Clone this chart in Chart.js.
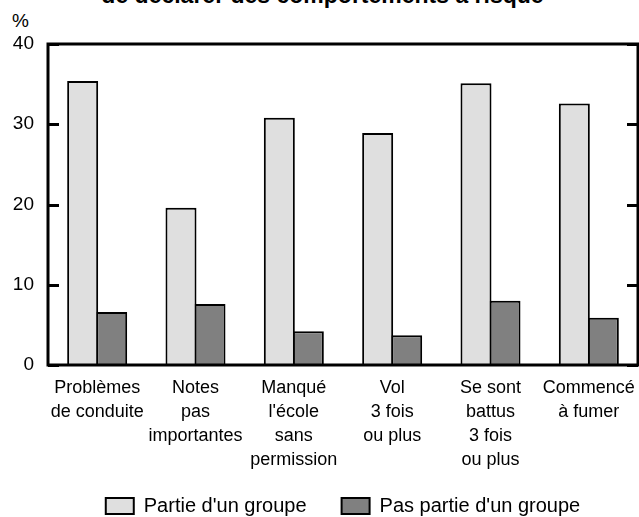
<!DOCTYPE html>
<html lang="fr">
<head>
<meta charset="utf-8">
<title>Comportements à risque</title>
<script src="https://cdn.jsdelivr.net/npm/chart.js@4/dist/chart.umd.min.js"></script>
<style>
  html, body { margin: 0; padding: 0; background: #fff; }
  #wrap { position: relative; width: 639px; height: 517px; overflow: hidden; font-family: "Liberation Sans", Arial, sans-serif; }
  #titre { position: absolute; left: 3px; top: -16px; width: 639px; text-align: center; font-weight: bold; font-size: 23px; line-height: 23px; color: #000; white-space: nowrap; }
  #unite { position: absolute; left: 12px; top: 11px; font-size: 19px; line-height: 19px; color: #000; }
  canvas { position: absolute; left: 0; top: 0; }
</style>
</head>
<body>
<div id="wrap">
  <div id="titre">de déclarer des comportements à risque</div>
  <div id="unite">%</div>
  <canvas id="chart" width="639" height="517"></canvas>
</div>
<script>
  // catégories (étiquettes sur plusieurs lignes)
  const categories = [
    ['Problèmes', 'de conduite'],
    ['Notes', 'pas', 'importantes'],
    ['Manqué', "l'école", 'sans', 'permission'],
    ['Vol', '3 fois', 'ou plus'],
    ['Se sont', 'battus', '3 fois', 'ou plus'],
    ['Commencé', 'à fumer'],
  ];
  const seriesNames = ["Partie d'un groupe", "Pas partie d'un groupe"];
  const partieGroupe = [35.4, 19.6, 30.8, 28.9, 35.1, 32.6];
  const pasPartieGroupe = [6.6, 7.6, 4.2, 3.7, 8.0, 5.9];
  const yTicks = [0, 10, 20, 30, 40];

  const FONT = '"Liberation Sans", Arial, sans-serif';

  // cadre autour de la zone de tracé + graduations vers l'intérieur (gauche et droite)
  const cadre = {
    id: 'cadre',
    afterLayout(chart) {
      // l'axe x est raccourci (afterFit) : on rallonge sa zone de découpe pour ne pas couper la 4e ligne
      chart.scales.x.bottom = chart.height;
    },
    afterDatasetsDraw(chart) {
      const { ctx, chartArea: a, scales: { y } } = chart;
      ctx.save();
      ctx.strokeStyle = '#000';
      ctx.lineWidth = 3;
      ctx.strokeRect(a.left, a.top, a.right - a.left, a.bottom - a.top);
      ctx.beginPath();
      yTicks.forEach(v => {
        const py = Math.round(y.getPixelForValue(v)) + 0.5;
        ctx.moveTo(a.left, py); ctx.lineTo(a.left + 11, py);
        ctx.moveTo(a.right - 11, py); ctx.lineTo(a.right, py);
      });
      ctx.stroke();
      ctx.restore();
    }
  };

  new Chart(document.getElementById('chart'), {
    type: 'bar',
    data: {
      labels: categories,
      datasets: [
        { label: seriesNames[0], data: partieGroupe, backgroundColor: '#dfdfdf', borderColor: '#000', borderWidth: 2 },
        { label: seriesNames[1], data: pasPartieGroupe, backgroundColor: '#808080', borderColor: '#000', borderWidth: 2 },
      ],
    },
    options: {
      responsive: false,
      animation: false,
      categoryPercentage: 0.59,
      barPercentage: 1.069,
      layout: { padding: { top: 44, left: 12, right: 1, bottom: 1 } },
      plugins: {
        title: { display: false },
        tooltip: { enabled: false },
        legend: {
          position: 'bottom',
          fullSize: false,
          maxHeight: 55,
          labels: {
            boxWidth: 28, boxHeight: 16, padding: 35, color: '#000',
            font: { family: FONT, size: 20 },
          },
        },
      },
      scales: {
        x: {
          // espace sous l'axe via tickLength (non dessiné) plutôt que ticks.padding
          grid: { display: false, drawTicks: true, tickLength: 11 },
          border: { display: false },
          ticks: { color: '#000', padding: 0, maxRotation: 0, autoSkip: false, font: { family: FONT, size: 18, lineHeight: 24 / 18 } },
          afterFit(scale) { scale.height = 96; },
        },
        y: {
          min: 0, max: 40,
          grid: { display: false, drawTicks: false },
          border: { display: false },
          afterBuildTicks(scale) { scale.ticks = yTicks.map(v => ({ value: v })); },
          ticks: { color: '#000', padding: 14, font: { family: FONT, size: 19 } },
          afterFit(scale) { scale.width = 36; },
        },
      },
    },
    plugins: [cadre],
  });
</script>
</body>
</html>
